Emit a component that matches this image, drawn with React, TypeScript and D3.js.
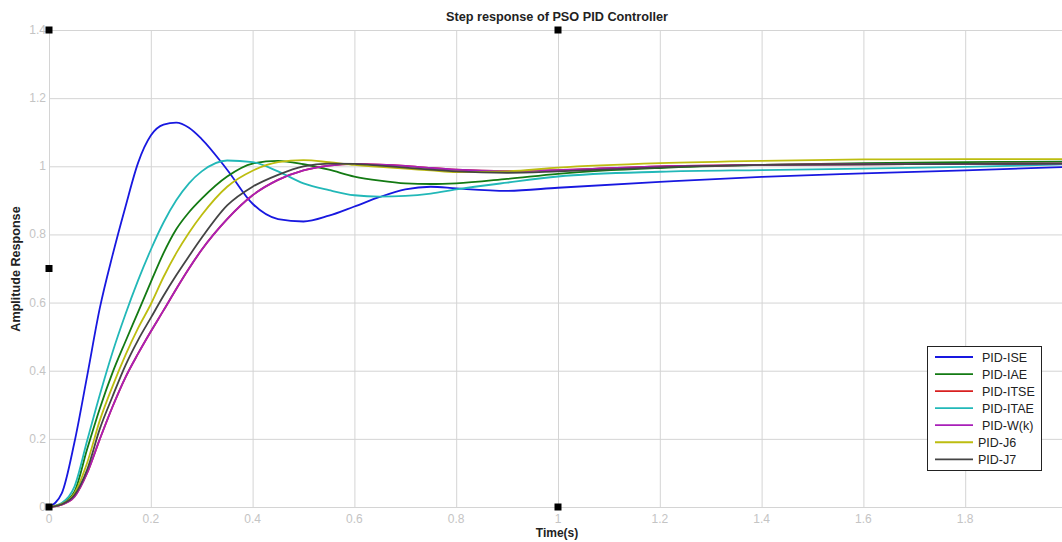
import React from "react";
import * as d3 from "d3";

// sample times (s) shared by every response curve
const times = [
  0, 0.025, 0.05, 0.075, 0.1, 0.125, 0.15, 0.175, 0.2, 0.225, 0.25, 0.275, 0.3,
  0.35, 0.4, 0.45, 0.5, 0.55, 0.6, 0.65, 0.7, 0.75, 0.8, 0.9, 1.0, 1.2, 1.4,
  1.6, 1.8, 2.0,
];

const ise = [
  0, 0.04, 0.19, 0.385, 0.585, 0.74, 0.88, 1.01, 1.09, 1.122, 1.128, 1.113,
  1.08, 0.99, 0.89, 0.845, 0.838, 0.855, 0.882, 0.91, 0.932, 0.94, 0.935, 0.928,
  0.937, 0.954, 0.969, 0.979, 0.988, 0.998,
];
const iae = [
  0, 0.01, 0.045, 0.17, 0.29, 0.395, 0.485, 0.572, 0.66, 0.745, 0.815, 0.865,
  0.905, 0.97, 1.008, 1.016, 1.006, 0.99, 0.97, 0.958, 0.95, 0.948, 0.95, 0.963,
  0.978, 0.995, 1.004, 1.009, 1.012, 1.014,
];
const itse = [
  0, 0.007, 0.03, 0.1, 0.2, 0.295, 0.38, 0.45, 0.515, 0.577, 0.64, 0.7,
  0.755, 0.845, 0.915, 0.96, 0.988, 1.002, 1.007, 1.005, 1.001, 0.995, 0.99,
  0.986, 0.989, 1.0, 1.004, 1.006, 1.007, 1.008,
];
const itae = [
  0, 0.012, 0.06, 0.195, 0.33, 0.455, 0.565, 0.665, 0.755, 0.835, 0.9, 0.95,
  0.985, 1.017, 1.012, 0.985, 0.95, 0.93, 0.915, 0.911, 0.913, 0.92, 0.932,
  0.952, 0.97, 0.984, 0.989, 0.993, 0.998, 1.006,
];
const wk = [
  0, 0.007, 0.03, 0.1, 0.2, 0.295, 0.38, 0.45, 0.515, 0.577, 0.64, 0.7,
  0.755, 0.845, 0.915, 0.96, 0.988, 1.002, 1.007, 1.005, 1.001, 0.995, 0.99,
  0.986, 0.989, 1.0, 1.004, 1.006, 1.007, 1.008,
];
const j6 = [
  0, 0.009, 0.04, 0.13, 0.255, 0.355, 0.445, 0.525, 0.595, 0.675, 0.745, 0.805,
  0.857, 0.94, 0.987, 1.012, 1.018, 1.012, 1.004, 0.998, 0.993, 0.988, 0.983,
  0.985, 0.996, 1.009, 1.016, 1.02, 1.021, 1.021,
];
const j7 = [
  0, 0.008, 0.035, 0.11, 0.23, 0.325, 0.415, 0.49, 0.555, 0.62, 0.68, 0.736,
  0.79, 0.885, 0.94, 0.975, 1.0, 1.008, 1.007, 1.002, 0.996, 0.99, 0.985,
  0.981, 0.985, 0.997, 1.004, 1.006, 1.007, 1.008,
];

const seriesNames = ["PID-ISE", "PID-IAE", "PID-ITSE", "PID-ITAE", "PID-W(k)", "PID-J6", "PID-J7"];
const seriesValues = [ise, iae, itse, itae, wk, j6, j7];
const seriesColors = ["#1818e0", "#137a13", "#d82020", "#22b8b8", "#a81fb8", "#bdbd10", "#444444"];

const xTicks = [0, 0.2, 0.4, 0.6, 0.8, 1, 1.2, 1.4, 1.6, 1.8, 2];
const yTicks = [0, 0.2, 0.4, 0.6, 0.8, 1, 1.2, 1.4];

// the little black squares sitting on the frame
const markerPoints: [number, number][] = [
  [0, 1.4],
  [1, 1.4],
  [0, 0.7],
  [0, 0],
  [1, 0],
];

const W = 1062;
const H = 542;

export default function App() {
  const x = d3.scaleLinear().domain([0, 2]).range([49, 1067]);
  const y = d3.scaleLinear().domain([0, 1.4]).range([507, 30]);

  const line = d3
    .line<[number, number]>()
    .x((d) => x(d[0]))
    .y((d) => y(d[1]))
    .curve(d3.curveMonotoneX);

  const gridColor = "#d4d4d4";
  const tickColor = "#c4c4c4";
  const font = "'Liberation Sans', Arial, sans-serif";

  const legendX = 927.5;
  const legendY = 346.5;
  const rowH = 17.05;

  return (
    <div style={{ position: "absolute", left: 0, top: 0 }}>
      <svg width={W} height={H} style={{ display: "block", background: "#fff" }} fontFamily={font}>
        <defs>
          <clipPath id="plot">
            <rect x={49} y={25} width={W - 49} height={485} />
          </clipPath>
        </defs>

        {/* grid */}
        {xTicks.map((t) => (
          <line key={"gx" + t} x1={x(t) + 0.5} x2={x(t) + 0.5} y1={y(1.4)} y2={y(0)} stroke={gridColor} strokeWidth={1} />
        ))}
        {yTicks.map((t) => (
          <line key={"gy" + t} x1={x(0)} x2={W} y1={y(t) + 0.5} y2={y(t) + 0.5} stroke={gridColor} strokeWidth={1} />
        ))}

        {/* tick labels (the 2 sits past the right edge) */}
        {xTicks
          .filter((t) => x(t) < W - 10)
          .map((t) => (
            <text key={"tx" + t} x={x(t)} y={523} textAnchor="middle" fontSize={12} fill={tickColor}>
              {d3.format("~g")(t)}
            </text>
          ))}
        {yTicks.map((t) => (
          <text key={"ty" + t} x={46} y={y(t) + 4} textAnchor="end" fontSize={12} fill={tickColor}>
            {d3.format("~g")(t)}
          </text>
        ))}

        {/* curves */}
        <g clipPath="url(#plot)">
          {seriesValues.map((vals, i) => (
            <path
              key={seriesNames[i]}
              d={line(times.map((t, k) => [t, vals[k]] as [number, number])) || ""}
              fill="none"
              stroke={seriesColors[i]}
              strokeWidth={1.8}
            />
          ))}
        </g>

        {markerPoints.map(([mx, my], i) => (
          <rect key={"m" + i} x={x(mx) - 3.5} y={y(my) - 3.5} width={7} height={7} fill="#000" />
        ))}

        {/* titles */}
        <text x={557} y={21} textAnchor="middle" fontSize={12.7} fontWeight="bold" fill="#222">
          Step response of PSO PID Controller
        </text>
        <text x={557} y={537} textAnchor="middle" fontSize={12} fontWeight="bold" fill="#222">
          Time(s)
        </text>
        <text
          transform={`translate(20, 269) rotate(-90)`}
          textAnchor="middle"
          fontSize={12.6}
          fontWeight="bold"
          fill="#222"
        >
          Amplitude Response
        </text>

        {/* legend */}
        <rect x={legendX} y={legendY} width={114} height={124} fill="#fff" stroke="#222" strokeWidth={1} />
        {seriesNames.map((name, i) => {
          const cy = legendY + 10.5 + i * rowH;
          const tx = i >= 5 ? 978 : 982;
          return (
            <g key={"lg" + name}>
              <line x1={935} x2={973} y1={cy} y2={cy} stroke={seriesColors[i]} strokeWidth={1.8} />
              <text x={tx} y={cy + 4.5} fontSize={12.5} fill="#222">
                {name}
              </text>
            </g>
          );
        })}
      </svg>
    </div>
  );
}
